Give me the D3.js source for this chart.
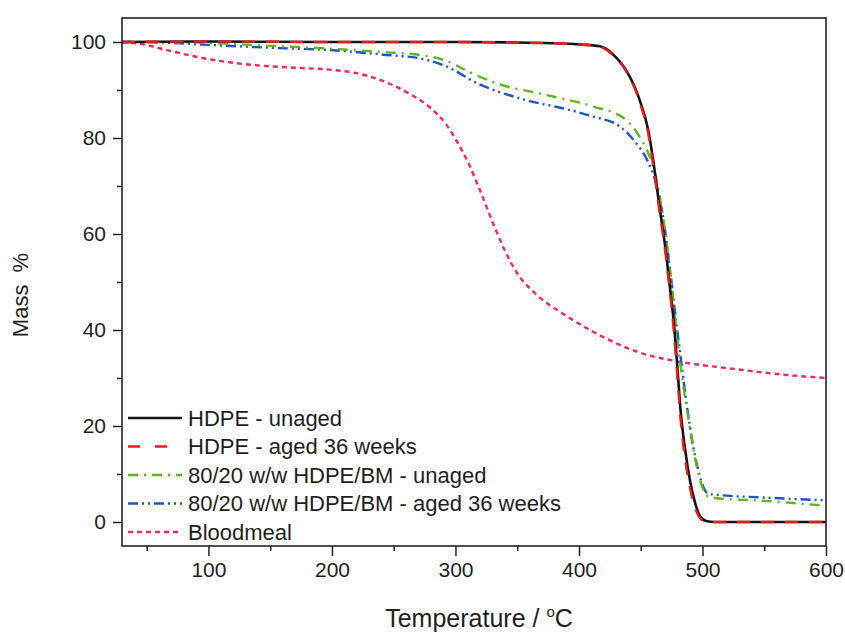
<!DOCTYPE html>
<html>
<head>
<meta charset="utf-8">
<script src="https://cdnjs.cloudflare.com/ajax/libs/d3/7.8.5/d3.min.js"></script>
<style>
  body { margin: 0; background: #fff; }
  text { font-family: "Liberation Sans", Arial, Helvetica, sans-serif; fill: #1e1e1e; }
</style>
</head>
<body>
<div id="chart"></div>
<script>
// TGA curves, [temperature °C, mass %]
var hdpeUnaged = [[30,100],[100,100.1],[200,100],[300,100],[350,99.9],[400,99.5],[417,99.1],[430,96.8],
    [438,94.2],[449,88],[456,81.7],[460,75.5],[465,66],[470,57],[474,48],[477,41],[480,31],[482,24],
    [486,15],[490,8.5],[494,4],[498,1.2],[503,0.2],[510,0],[550,0],[600,0]];
var hdpeAged = [[30,100],[100,100.1],[200,100],[300,100],[350,99.9],[400,99.5],[417,99],[430,96.6],
    [438,94],[449,87.6],[456,81],[460,74.5],[465,65],[470,56],[474,47],[477,39],[480,29],[482,22],
    [486,13],[490,7],[494,3],[498,0.8],[503,0.1],[510,0],[550,0],[600,0]];
var blendUnaged = [[30,100],[60,100],[100,99.8],[150,99.2],[200,98.6],[240,97.9],[271,97.3],[290,96.3],
    [300,95.2],[311,93.8],[322,92.5],[333,91.4],[345,90.5],[360,89.7],[385,88.3],[411,86.6],[438,83.8],
    [449,80.3],[456,76.9],[461.5,72.7],[468,63.7],[474,52],[478,42],[482,33],[488,22.5],[495,12],
    [500,7.2],[504,5.4],[510,5],[550,4.4],[600,3.4]];
var blendAged = [[30,100],[60,99.9],[100,99.4],[150,98.8],[200,98.3],[240,97.4],[273,96.5],[290,95.2],
    [300,94],[311,92.3],[322,90.9],[333,89.8],[345,88.8],[360,87.7],[385,86.3],[411,84.5],[433,82.4],
    [446,79],[455,75.5],[463,69.9],[468,63.7],[474,52],[479,41],[483,33],[488,23],[495,12.5],
    [500,7.8],[504,6],[510,5.7],[550,5.1],[600,4.5]];
var bloodmeal = [[30,100],[45,99.6],[65,98.4],[85,97.2],[103,96.3],[141,95.1],[174,94.6],[200,94.2],
    [220,93.5],[240,92],[260,89.6],[280,86.2],[292,83],[300,79.8],[310,75],[320,69],[330,62.5],
    [340,56.5],[350,51.8],[365,47.5],[387,43.4],[411,39.7],[433,36.9],[450,35.2],[479,33.5],
    [525,31.9],[565,30.7],[600,30]];

var seriesNames = ["HDPE - unaged", "HDPE - aged 36 weeks", "80/20 w/w HDPE/BM - unaged",
    "80/20 w/w HDPE/BM - aged 36 weeks", "Bloodmeal"];
var xTicks = [100, 200, 300, 400, 500, 600];
var yTicks = [0, 20, 40, 60, 80, 100];

var width = 845, height = 635;
var margin = {top: 18, right: 19, bottom: 89, left: 122};
var w = width - margin.left - margin.right, h = height - margin.top - margin.bottom;

var styles = [
    {color: "#151515", dash: null},
    {color: "#f01a1a", dash: "13,11"},
    {color: "#5fb51c", dash: "10,6,2,6"},
    {color: "#1c56c4", dash: "10,4,2,4,2,4"},
    {color: "#fb2461", dash: "5,4"}
];
var allSeries = [hdpeUnaged, hdpeAged, blendUnaged, blendAged, bloodmeal];

var svg = d3.select("#chart").append("svg")
    .attr("width", width).attr("height", height);
var g = svg.append("g").attr("transform", "translate(" + margin.left + "," + margin.top + ")");

var x = d3.scaleLinear().domain([30, 600]).range([0, w]);
var y = d3.scaleLinear().domain([-5, 105]).range([h, 0]);

// clip for curves
svg.append("clipPath").attr("id", "clip").append("rect").attr("width", w).attr("height", h);

var line = d3.line()
    .x(function(d) { return x(d[0]); })
    .y(function(d) { return y(d[1]); })
    .curve(d3.curveMonotoneX);

// draw bloodmeal first, black last under red dashes
var order = [4, 3, 2, 0, 1];
g.append("g").attr("clip-path", "url(#clip)")
    .selectAll("path").data(order).enter().append("path")
    .attr("d", function(i) { return line(allSeries[i]); })
    .attr("fill", "none")
    .attr("stroke", function(i) { return styles[i].color; })
    .attr("stroke-width", function(i) { return i === 0 ? 2.6 : 2.4; })
    .attr("stroke-dasharray", function(i) { return styles[i].dash; });

// axes
var xMinor = d3.range(50, 601, 100);
var yMinor = d3.range(10, 101, 20);
var axisColor = "#222";

g.append("g").attr("transform", "translate(0," + h + ")")
    .call(d3.axisBottom(x).tickValues(xTicks).tickSize(10).tickPadding(6));
g.append("g").attr("transform", "translate(0," + h + ")")
    .call(d3.axisBottom(x).tickValues(xMinor).tickSize(5).tickFormat(""));
g.append("g")
    .call(d3.axisLeft(y).tickValues(yTicks).tickSize(9).tickPadding(7));
g.append("g")
    .call(d3.axisLeft(y).tickValues(yMinor).tickSize(5).tickFormat(""));

g.selectAll(".tick line").attr("stroke", axisColor).attr("stroke-width", 1.5);
g.selectAll(".domain").remove();
g.selectAll(".tick text").style("font-size", "21px").attr("fill", "#1e1e1e");

// frame
g.append("rect").attr("width", w).attr("height", h)
    .attr("fill", "none").attr("stroke", axisColor).attr("stroke-width", 1.6);

// axis titles
var xt = svg.append("text")
    .attr("x", 479).attr("y", 627)
    .attr("text-anchor", "middle")
    .style("font-size", "25px");
xt.append("tspan").text("Temperature / ");
xt.append("tspan").text("o").attr("dy", -10).style("font-size", "15px");
xt.append("tspan").text("C").attr("dy", 10);

svg.append("text")
    .attr("transform", "translate(28,295) rotate(-90)")
    .attr("text-anchor", "middle")
    .style("font-size", "22px")
    .style("white-space", "pre")
    .text("Mass  %");

// legend
var legend = g.append("g").attr("transform", "translate(6,400)");
var rows = legend.selectAll("g").data(seriesNames).enter().append("g")
    .attr("transform", function(d, i) { return "translate(0," + (i * 28.5) + ")"; });
rows.append("line")
    .attr("x1", 0).attr("x2", 54).attr("y1", 0).attr("y2", 0)
    .attr("stroke", function(d, i) { return styles[i].color; })
    .attr("stroke-width", 2.4)
    .attr("stroke-dasharray", function(d, i) { return i === 1 ? "12,15" : styles[i].dash; });
rows.append("text")
    .attr("x", 60).attr("y", 0).attr("dy", "0.36em")
    .style("font-size", "22px")
    .text(function(d) { return d; });
</script>
</body>
</html>
